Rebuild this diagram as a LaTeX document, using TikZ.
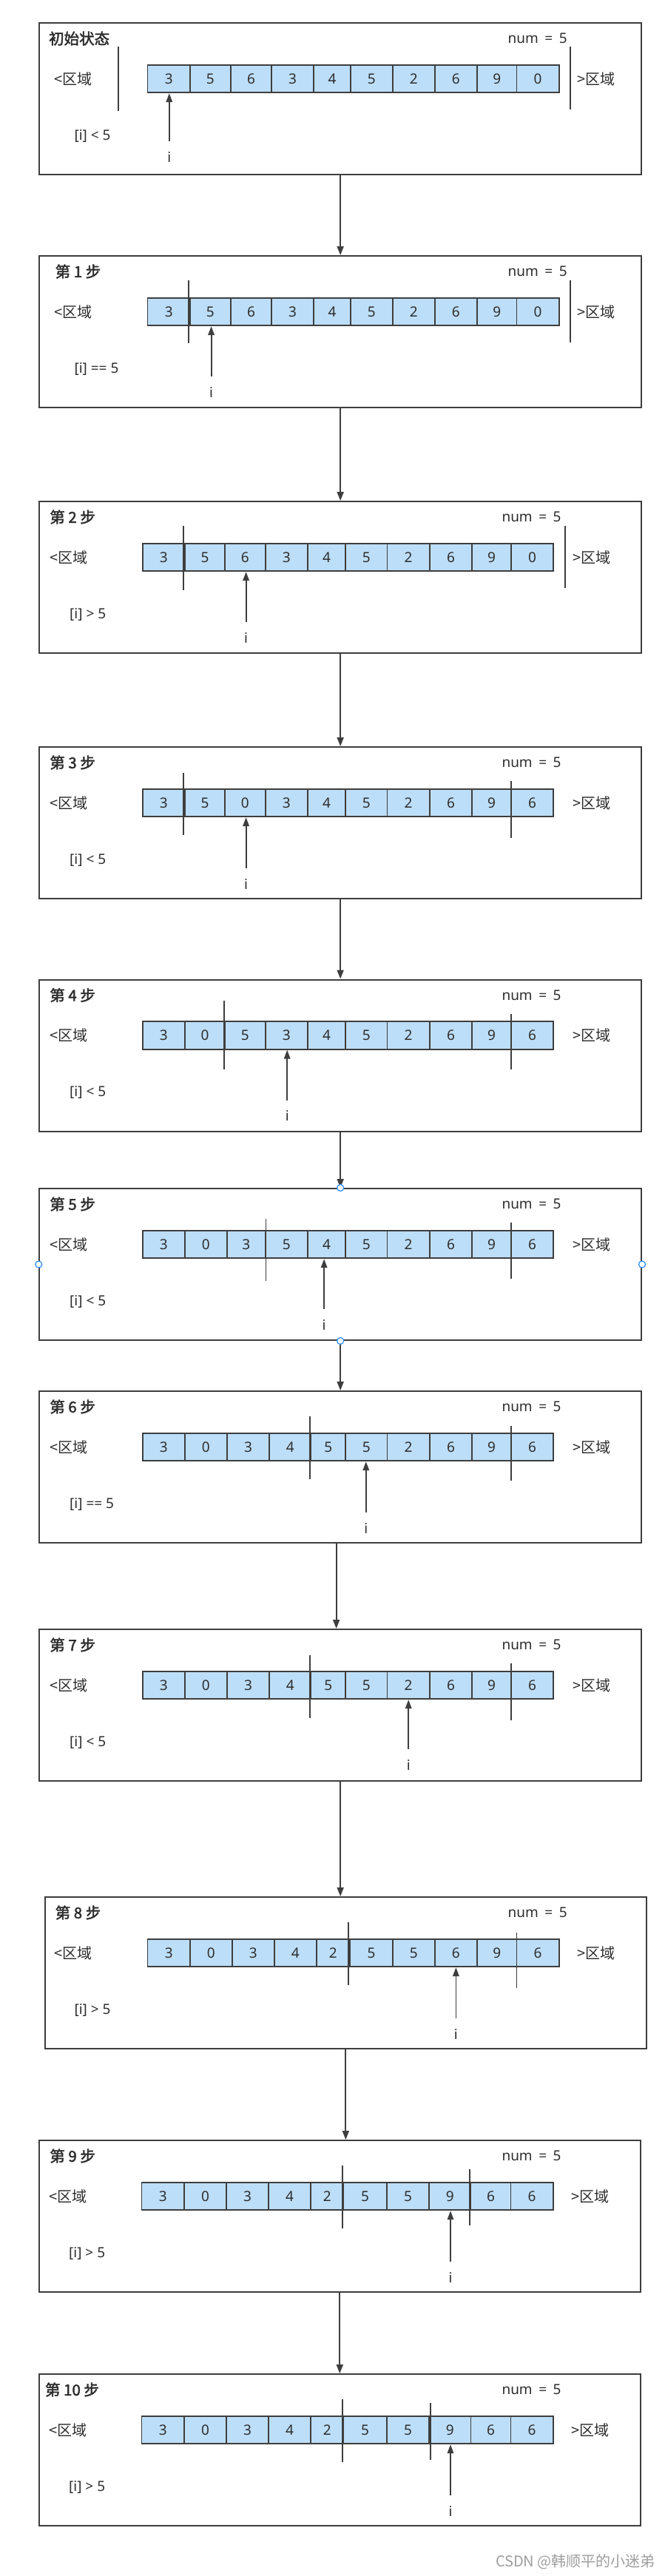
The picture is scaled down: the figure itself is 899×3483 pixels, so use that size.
\documentclass[tikz,border=0pt]{standalone}
\usepackage{fontspec}
\setmainfont{Noto Sans}
\newfontfamily\cjk{Noto Sans CJK SC}
\newfontfamily\cjkb{Noto Sans CJK SC}[FakeBold=2.2]
\usetikzlibrary{arrows.meta}
\definecolor{cellblue}{RGB}{189,222,248}
\definecolor{ink}{RGB}{62,62,62}
\definecolor{txt}{RGB}{45,45,45}
\definecolor{handleblue}{RGB}{40,140,255}
\tikzset{
  framebox/.style={draw=ink, line width=2pt, fill=white, minimum height=205pt, inner sep=0pt},
  cellbox/.style={draw=ink, line width=1.8pt, fill=cellblue, minimum height=37.5pt, inner sep=0pt,
    font=\fontsize{19}{22}\selectfont, text=txt},
  divider/.style={draw=ink, line width=1.8pt},
  ptrline/.style={draw=ink, line width=1.8pt, -{Triangle[length=12pt,width=8.5pt]}},
  conn/.style={draw=ink, line width=1.8pt, -{Triangle[length=12pt,width=9pt]}},
  cjklbl/.style={anchor=west, inner sep=0pt, font=\fontsize{20}{22}\selectfont\cjk, text=txt},
  latlbl/.style={anchor=west, inner sep=0pt, font=\fontsize{19}{22}\selectfont, text=txt},
  titlelbl/.style={anchor=west, inner sep=0pt, font=\fontsize{20.5}{22}\selectfont\cjkb, text=txt},
  handle/.style={circle, draw=handleblue, line width=1.2pt, fill=white, minimum size=9pt, inner sep=0pt},
}
% name, T, L, R, title x, title
\newcommand\frameat[6]{%
  \node[framebox, minimum width={(#4-#3)*1pt}] (#1) at ({(#3+#4)/2}, {#2+102.5}) {};
  \node[titlelbl] (#1t) at (#5, {#2+21}) {#6};}
% name, T, boundaries, values
\newcommand\cellrow[4]{%
  \foreach \k in {0,...,9}{%
    \pgfmathsetmacro\cellL{{#3}[\k]}%
    \pgfmathsetmacro\cellR{{#3}[\k+1]}%
    \pgfmathtruncatemacro\cellV{{#4}[\k]}%
    \node[cellbox, minimum width={(\cellR-\cellL)*1pt}] (#1c\k) at ({(\cellL+\cellR)/2}, {#2+75.5}) {\cellV};
  }}
% name, T, ltx, numx, gtx, condx, cond
\newcommand\texts[7]{%
  \node[cjklbl] (#1lt) at (#3, {#2+75.5}) {<区域};
  \node[latlbl] (#1num) at (#4, {#2+21}) {num\hspace{.45em}=\hspace{.45em}5};
  \node[cjklbl] (#1gt) at (#5, {#2+75.5}) {>区域};
  \node[latlbl] (#1cond) at (#6, {#2+152.5}) {#7};}
% T, lx, la, lb, rx, ra, rb
\newcommand\divs[7]{%
  \draw[divider] (#2, {#1+#3}) -- (#2, {#1+#4});
  \draw[divider] (#5, {#1+#6}) -- (#5, {#1+#7});}
% name, T, x, cell, start
\newcommand\pointer[5]{%
  \coordinate (#1p) at (#3, {#2+#5});
  \draw[ptrline] (#1p) -- (#1p |- #1c#4.south);
  \node[latlbl, anchor=center] (#1i) at (#3, {#2+#5+21}) {i};}
\def\bA{199.5,256.9,311.9,367.0,424.3,473.6,531.0,587.7,645.1,698.4,755.7}
\def\bB{192.7,250.0,303.9,358.9,415.7,467.3,523.5,580.8,638.2,690.9,748.3}
\def\bBv{192.7,250.0,306.8,358.9,415.7,467.3,523.5,580.8,638.2,690.9,748.3}
\def\bBvi{192.7,250.0,306.8,364.1,420.3,467.3,523.5,580.8,638.2,690.9,748.3}
\def\bAviii{199.5,256.9,313.6,371.0,427.8,473.0,531.0,587.7,645.1,698.4,755.7}
\def\bC{191.5,248.9,306.2,363.0,420.3,464.4,522.9,580.3,636.5,690.4,747.7}
\begin{document}
\begin{tikzpicture}[x=1pt, y=-1pt]
\fill[white] (0,0) rectangle (899,3483);
\useasboundingbox (0,0) rectangle (899,3483);

% ---- frame 0
\frameat{f0}{31}{53.3}{867.0}{65.9}{初始状态}
\cellrow{f0}{31}{\bA}{3,5,6,3,4,5,2,6,9,0}
\texts{f0}{31}{73.4}{686.4}{779.8}{100.3}{[i] < 5}
\divs{31}{160.0}{32.3}{119}{770.6}{32.3}{116.7}
\pointer{f0}{31}{228.8}{0}{160}

% ---- frame 1
\frameat{f1}{346}{53.3}{867.0}{74.5}{第 1 步}
\cellrow{f1}{346}{\bA}{3,5,6,3,4,5,2,6,9,0}
\texts{f1}{346}{73.4}{686.4}{779.8}{100.3}{[i] == 5}
\divs{346}{255.2}{32.6}{117.9}{770.6}{32.6}{116.7}
\pointer{f1}{346}{285.6}{1}{163}

% ---- frame 2
\frameat{f2}{678}{53.3}{867.0}{67.1}{第 2 步}
\cellrow{f2}{678}{\bB}{3,5,6,3,4,5,2,6,9,0}
\texts{f2}{678}{67.1}{678.3}{774.1}{94.0}{[i] > 5}
\divs{678}{247.7}{32.9}{119.8}{764.3}{32.5}{117}
\pointer{f2}{678}{332.6}{2}{163}

% ---- frame 3
\frameat{f3}{1010}{53.3}{867.0}{67.1}{第 3 步}
\cellrow{f3}{1010}{\bB}{3,5,0,3,4,5,2,6,9,6}
\texts{f3}{1010}{67.1}{678.3}{774.1}{94.0}{[i] < 5}
\divs{1010}{247.7}{34.5}{119}{690.9}{45.8}{122.9}
\pointer{f3}{1010}{332.6}{2}{164}

% ---- frame 4
\frameat{f4}{1324.5}{53.3}{867.0}{67.1}{第 4 步}
\cellrow{f4}{1324.5}{\bB}{3,0,5,3,4,5,2,6,9,6}
\texts{f4}{1324.5}{67.1}{678.3}{774.1}{94.0}{[i] < 5}
\divs{1324.5}{302.8}{28.4}{121}{690.9}{46.5}{121.8}
\pointer{f4}{1324.5}{388.2}{3}{163}

% ---- frame 5
\frameat{f5}{1607}{53.3}{867.0}{67.1}{第 5 步}
\cellrow{f5}{1607}{\bBv}{3,0,3,5,4,5,2,6,9,6}
\texts{f5}{1607}{67.1}{678.3}{774.1}{94.0}{[i] < 5}
\divs{1607}{359.5}{40.6}{124.9}{690.9}{46}{122}
\pointer{f5}{1607}{438.1}{4}{163}

% ---- frame 6
\frameat{f6}{1881}{53.3}{867.0}{67.1}{第 6 步}
\cellrow{f6}{1881}{\bBvi}{3,0,3,4,5,5,2,6,9,6}
\texts{f6}{1881}{67.1}{678.3}{774.1}{94.0}{[i] == 5}
\divs{1881}{419.2}{34.4}{119.4}{690.9}{46.5}{121}
\pointer{f6}{1881}{494.8}{5}{164}

% ---- frame 7
\frameat{f7}{2203}{53.3}{867.0}{67.1}{第 7 步}
\cellrow{f7}{2203}{\bBvi}{3,0,3,4,5,5,2,6,9,6}
\texts{f7}{2203}{67.1}{678.3}{774.1}{94.0}{[i] < 5}
\divs{2203}{419.2}{35.2}{119.8}{690.9}{45.5}{122.8}
\pointer{f7}{2203}{552.2}{6}{162}

% ---- frame 8
\frameat{f8}{2565}{60.8}{873.9}{74.5}{第 8 步}
\cellrow{f8}{2565}{\bAviii}{3,0,3,4,2,5,5,6,9,6}
\texts{f8}{2565}{73.4}{686.4}{779.8}{100.3}{[i] > 5}
\divs{2565}{470.8}{34}{119}{698.4}{47.5}{123}
\pointer{f8}{2565}{616.4}{7}{164}

% ---- frame 9
\frameat{f9}{2894}{52.8}{865.8}{67.1}{第 9 步}
\cellrow{f9}{2894}{\bC}{3,0,3,4,2,5,5,9,6,6}
\texts{f9}{2894}{65.9}{678.3}{772.4}{92.9}{[i] > 5}
\divs{2894}{462.7}{34}{119}{634.7}{39}{115}
\pointer{f9}{2894}{609.0}{7}{164}

% ---- frame 10
\frameat{f10}{3210}{52.8}{865.8}{60.8}{第 10 步}
\cellrow{f10}{3210}{\bC}{3,0,3,4,2,5,5,9,6,6}
\texts{f10}{3210}{65.9}{678.3}{772.4}{92.9}{[i] > 5}
\divs{3210}{462.7}{34}{119}{582.0}{39}{116}
\pointer{f10}{3210}{609.0}{7}{164}

% ---- connectors
\draw[conn] (f0.south) -- (f1.north);
\draw[conn] (f1.south) -- (f2.north);
\draw[conn] (f2.south) -- (f3.north);
\draw[conn] (f3.south) -- (f4.north);
\draw[conn] (f4.south) -- (f5.north);
\draw[conn] (f5.south) -- (f6.north);
\draw[conn] ([xshift=-5.5pt]f6.south) -- ([xshift=-5.5pt]f7.north);
\draw[conn] (f7.south) -- (f7.south |- f8.north);
\draw[conn] (f8.south) -- (f8.south |- f9.north);
\draw[conn] (f9.south) -- (f10.north);

% ---- selection handles on frame 5
\node[handle] (h1) at (f5.north) {};
\node[handle] (h2) at (f5.west) {};
\node[handle] (h3) at (f5.east) {};
\node[handle] (h4) at (f5.south) {};

% ---- watermark
\node[anchor=east, inner sep=0pt, font=\fontsize{20}{22}\selectfont\cjk, text=black!38] (wm) at (886, 3464) {CSDN @韩顺平的小迷弟};
\end{tikzpicture}
\end{document}
